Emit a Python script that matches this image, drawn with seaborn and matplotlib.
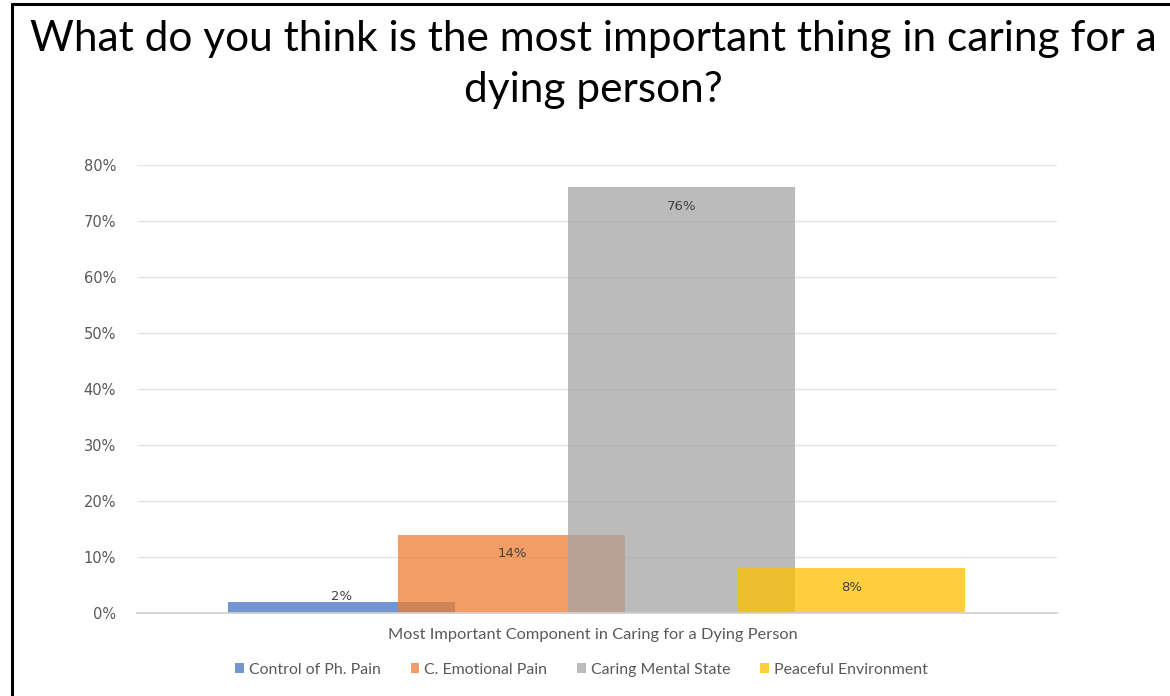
import matplotlib
matplotlib.use("Agg")
import matplotlib.pyplot as plt
import seaborn as sns
import pandas as pd
from matplotlib.patches import Patch
from matplotlib.lines import Line2D
from matplotlib.ticker import FuncFormatter

categories = ["Control of Ph. Pain", "C. Emotional Pain", "Caring Mental State", "Peaceful Environment"]
values = [0.02, 0.14, 0.76, 0.08]
value_labels = ["2%", "14%", "76%", "8%"]
colors = ["#4472C4", "#ED7D31", "#A5A5A5", "#FFC000"]
y_ticks = [0, 0.1, 0.2, 0.3, 0.4, 0.5, 0.6, 0.7, 0.8]
title = "What do you think is the most important thing in caring for a\ndying person?"
x_label = "Most Important Component in Caring for a Dying Person"

sns.set_theme(style="white")
plt.rcParams["font.family"] = ["DejaVu Sans"]

df = pd.DataFrame({"cat": categories, "val": values})

fig = plt.figure(figsize=(11.7, 6.96), dpi=100)
ax = fig.add_axes([0.117, 0.1193, 0.7864, 0.6437])

sns.barplot(data=df, x="cat", y="val", hue="cat", palette=colors, order=categories,
            hue_order=categories, dodge=False, width=1.335, alpha=0.75, ax=ax,
            legend=False, saturation=1, linewidth=0)

ax.set_xlim(-1.206, 4.206)
ax.set_ylim(0, 0.8)
ax.set_yticks(y_ticks)
ax.yaxis.set_major_formatter(FuncFormatter(lambda v, p: f"{v*100:.0f}%"))
ax.tick_params(axis="y", labelsize=10.5, labelcolor="#595959", length=0, pad=15)
ax.set_xticks([])
ax.set_xlabel("")
ax.set_ylabel("")
ax.grid(axis="y", color="#E4E4E4", linewidth=1)
ax.set_axisbelow(True)
for s in ["top", "right", "left"]:
    ax.spines[s].set_visible(False)
ax.spines["bottom"].set_color("#D0D0D0")
ax.spines["bottom"].set_linewidth(1.2)

for i, (v, lab) in enumerate(zip(values, value_labels)):
    off = -19 if v > 0.05 else 5
    ax.annotate(lab, (i, v), xytext=(0, off), textcoords="offset pixels",
                ha="center", va="center", fontsize=9.5, color="#404040")

fig.text(0.507, 0.908, title, ha="center", va="center", fontsize=30.5,
         family=["Lato", "DejaVu Sans"], color="black", linespacing=1.42)

fig.text(0.507, 0.087, x_label, ha="center", va="center", fontsize=11.8,
         family=["Lato", "DejaVu Sans"], color="#595959")

handles = [Patch(facecolor=c, alpha=0.75, edgecolor="none") for c in colors]
leg = fig.legend(handles, categories, loc="center", bbox_to_anchor=(0.497, 0.038),
                 ncol=4, frameon=False, handlelength=0.55, handleheight=0.55,
                 handletextpad=0.3, columnspacing=1.9,
                 prop={"family": ["Lato", "DejaVu Sans"], "size": 11.4})
for t in leg.get_texts():
    t.set_color("#595959")

fig.add_artist(Line2D([0.0103, 0.0103], [0, 0.994], transform=fig.transFigure, color="black", linewidth=2.2))
fig.add_artist(Line2D([0.0103, 1.0], [0.994, 0.994], transform=fig.transFigure, color="black", linewidth=2.2))

fig.savefig("out.png", dpi=100)
